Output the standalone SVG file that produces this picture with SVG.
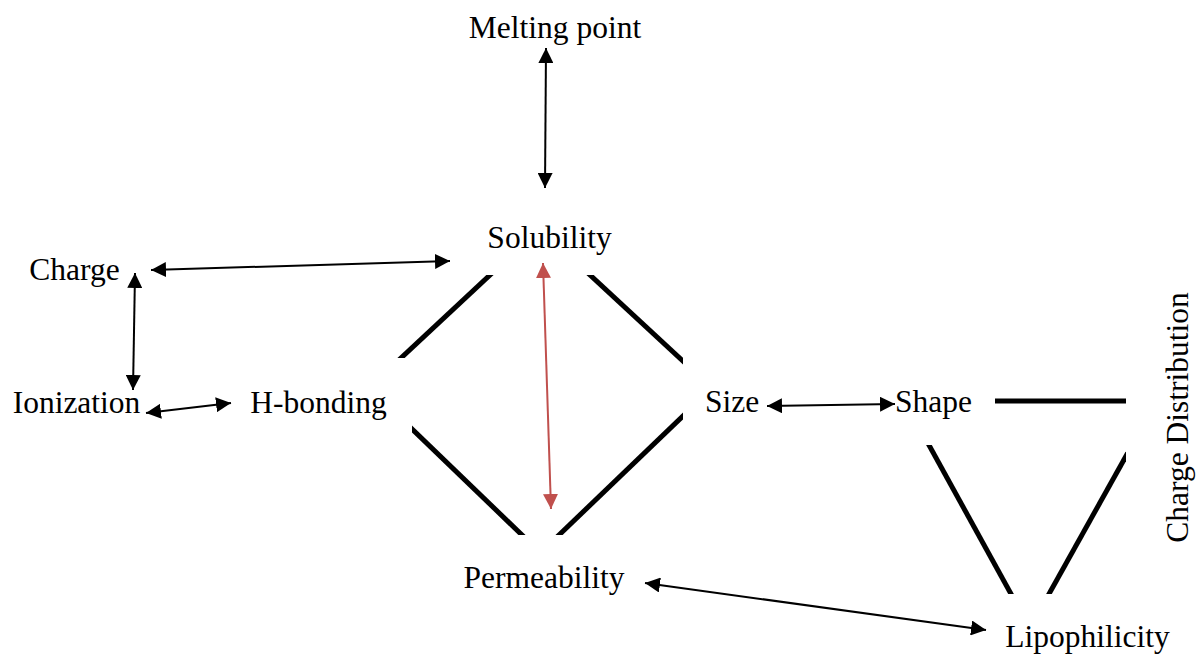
<svg xmlns="http://www.w3.org/2000/svg" width="1197" height="654" viewBox="0 0 1197 654">
<style>
text{font-family:"Liberation Serif","Times New Roman",serif;font-size:31.5px;fill:#000;text-anchor:middle}
.thick{stroke:#000;stroke-width:5;fill:none}
.arr{stroke:#000;stroke-width:2;fill:none;marker-start:url(#ah);marker-end:url(#ah)}
.red{stroke:#C0504D;stroke-width:2;fill:none;marker-start:url(#ahr);marker-end:url(#ahr)}
</style>
<defs>
<marker id="ah" markerUnits="userSpaceOnUse" markerWidth="15" markerHeight="15" refX="15" refY="7.5" orient="auto-start-reverse" viewBox="0 0 15 15"><path d="M0,0 L15,7.5 L0,15 z" fill="#000"/></marker>
<marker id="ahr" markerUnits="userSpaceOnUse" markerWidth="15" markerHeight="15" refX="15" refY="7.5" orient="auto-start-reverse" viewBox="0 0 15 15"><path d="M0,0 L15,7.5 L0,15 z" fill="#C0504D"/></marker>
<clipPath id="c1"><rect x="380" y="275" width="140" height="83"/></clipPath>
<clipPath id="c2"><rect x="560" y="275" width="123" height="100"/></clipPath>
<clipPath id="c3"><rect x="412" y="400" width="150" height="135"/></clipPath>
<clipPath id="c4"><rect x="540" y="400" width="143" height="135"/></clipPath>
<clipPath id="c5"><rect x="900" y="445" width="130" height="149"/></clipPath>
<clipPath id="c6"><rect x="1030" y="430" width="96" height="164"/></clipPath>
</defs>
<rect width="1197" height="654" fill="#fff"/>
<g id="connectors">
<line class="thick" clip-path="url(#c1)" x1="493.2" y1="272" x2="397.8" y2="361"/>
<line class="thick" clip-path="url(#c2)" x1="586.8" y1="272" x2="686.2" y2="364"/>
<line class="thick" clip-path="url(#c3)" x1="408.9" y1="426" x2="525.1" y2="538"/>
<line class="thick" clip-path="url(#c4)" x1="686.1" y1="413" x2="555.9" y2="538"/>
<line class="thick" x1="995" y1="401" x2="1126" y2="401"/>
<line class="thick" clip-path="url(#c5)" x1="927.3" y1="442" x2="1012.7" y2="597"/>
<line class="thick" clip-path="url(#c6)" x1="1127.7" y1="453" x2="1047.3" y2="597"/>
<line class="arr" x1="546" y1="48" x2="545" y2="188"/>
<line class="arr" x1="151" y1="270" x2="450" y2="261"/>
<line class="arr" x1="135" y1="273" x2="133" y2="390"/>
<line class="arr" x1="146" y1="413" x2="231" y2="403"/>
<line class="arr" x1="767" y1="406" x2="895" y2="404"/>
<line class="arr" x1="645" y1="583" x2="986" y2="630"/>
<line class="red" x1="543" y1="263" x2="551" y2="509"/>
</g>
<g id="melting"><text x="555" y="38">Melting point</text></g>
<g id="solubility"><text x="549.5" y="248">Solubility</text></g>
<g id="charge"><text x="74.5" y="280">Charge</text></g>
<g id="ionization"><text x="76.5" y="413">Ionization</text></g>
<g id="hbonding"><text x="318.5" y="413">H-bonding</text></g>
<g id="size"><text x="732" y="412">Size</text></g>
<g id="shape"><text x="933.5" y="412">Shape</text></g>
<g id="permeability"><text x="544" y="588">Permeability</text></g>
<g id="lipophilicity"><text x="1087.5" y="647">Lipophilicity</text></g>
<g id="chargedist"><text transform="translate(1188,417.5) rotate(-90)">Charge Distribution</text></g>
</svg>
